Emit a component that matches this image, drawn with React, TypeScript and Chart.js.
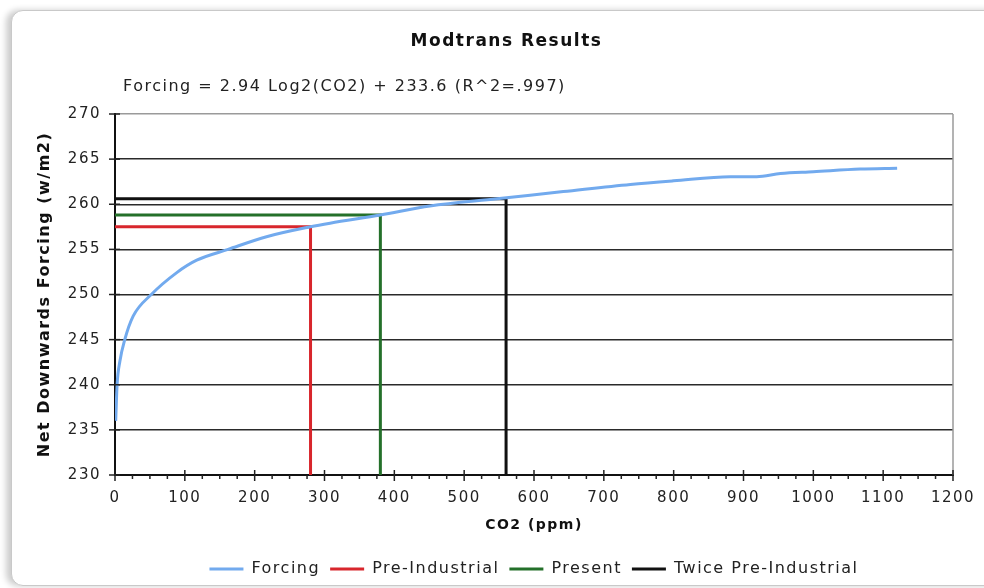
import { useEffect, useRef } from "react";
import { Chart, registerables } from "chart.js";

Chart.register(...registerables);

// ---- data ----
const co2Ppm = [1, 3, 7, 14, 26, 52, 88, 117, 162, 217, 280, 308, 380, 451, 547, 642, 738, 800, 881, 919, 953, 1000, 1067, 1120];
const forcingWm2 = [236.0, 240.0, 242.6, 245.0, 247.6, 250.0, 252.4, 253.8, 255.0, 256.4, 257.5, 257.9, 258.8, 259.8, 260.6, 261.4, 262.2, 262.6, 263.05, 263.05, 263.4, 263.6, 263.9, 264.0];

const preIndustrialX = [0, 280, 280];
const preIndustrialY = [257.5, 257.5, 230];
const presentX = [0, 380, 380];
const presentY = [258.8, 258.8, 230];
const twicePreIndustrialX = [0, 560, 560];
const twicePreIndustrialY = [260.6, 260.6, 230];

const seriesLabels = ["Forcing", "Pre-Industrial", "Present", "Twice Pre-Industrial"];
const seriesColors = ["#72aaee", "#d8262c", "#24702a", "#111111"];

const chartTitle = "Modtrans Results";
const fitLabel = "Forcing = 2.94 Log2(CO2) + 233.6 (R^2=.997)";
const xTitle = "CO2 (ppm)";
const yTitle = "Net Downwards Forcing (w/m2)";
const xMin = 0, xMax = 1200, xStep = 100, xMinorStep = 25;
const yMin = 230, yMax = 270, yStep = 5;

const FONT = '"DejaVu Sans", Verdana, sans-serif';

const toPoints = (xs: number[], ys: number[]) => xs.map((x, i) => ({ x, y: ys[i] }));

const spacingPlugin = {
  id: "letterSpacingPlugin",
  beforeLayout(chart: any) {
    chart.ctx.letterSpacing = "1.5px";
  },
  beforeDraw(chart: any) {
    chart.ctx.letterSpacing = "1.5px";
  },
};

const decorPlugin = {
  id: "decorPlugin",
  afterDraw(chart: any) {
    const { ctx, chartArea: a, scales } = chart;
    const x = scales.x;
    const y = scales.y;
    ctx.save();
    // right frame of plot area
    ctx.strokeStyle = "#9a9a9a";
    ctx.lineWidth = 1.5;
    ctx.beginPath();
    ctx.moveTo(a.right, a.top);
    ctx.lineTo(a.right, a.bottom);
    ctx.stroke();
    // x tick marks (major crossing, minor below)
    ctx.strokeStyle = "#222";
    ctx.lineWidth = 1.5;
    for (let v = xMin; v <= xMax; v += xMinorStep) {
      const px = x.getPixelForValue(v);
      const major = v % xStep === 0;
      ctx.beginPath();
      ctx.moveTo(px, major ? a.bottom - 5 : a.bottom);
      ctx.lineTo(px, a.bottom + (major ? 6 : 4));
      ctx.stroke();
    }
    // y tick marks crossing the axis
    for (let v = yMin; v <= yMax; v += yStep) {
      const py = y.getPixelForValue(v);
      ctx.beginPath();
      ctx.moveTo(a.left - 6, py);
      ctx.lineTo(a.left + 5, py);
      ctx.stroke();
    }
    // fit equation line
    ctx.letterSpacing = "1.5px";
    ctx.fillStyle = "#222";
    ctx.font = `16px ${FONT}`;
    ctx.textBaseline = "middle";
    ctx.textAlign = "left";
    ctx.fillText(fitLabel, a.left + 8, a.top - 27);
    ctx.restore();
  },
};

export default function App() {
  const canvasRef = useRef<HTMLCanvasElement | null>(null);

  useEffect(() => {
    if (!canvasRef.current) return;
    const chart = new Chart(canvasRef.current, {
      type: "line",
      data: {
        datasets: [
          {
            label: seriesLabels[0],
            data: toPoints(co2Ppm, forcingWm2),
            borderColor: seriesColors[0],
            backgroundColor: seriesColors[0],
            borderWidth: 3,
            pointRadius: 0,
            cubicInterpolationMode: "monotone",
            fill: false,
          },
          {
            label: seriesLabels[1],
            data: toPoints(preIndustrialX, preIndustrialY),
            borderColor: seriesColors[1],
            backgroundColor: seriesColors[1],
            borderWidth: 3,
            pointRadius: 0,
            tension: 0,
            fill: false,
          },
          {
            label: seriesLabels[2],
            data: toPoints(presentX, presentY),
            borderColor: seriesColors[2],
            backgroundColor: seriesColors[2],
            borderWidth: 3,
            pointRadius: 0,
            tension: 0,
            fill: false,
          },
          {
            label: seriesLabels[3],
            data: toPoints(twicePreIndustrialX, twicePreIndustrialY),
            borderColor: seriesColors[3],
            backgroundColor: seriesColors[3],
            borderWidth: 3,
            pointRadius: 0,
            tension: 0,
            fill: false,
          },
        ],
      },
      options: {
        responsive: false,
        animation: false,
        devicePixelRatio: 1,
        layout: { padding: { left: 60, right: 31, top: 0, bottom: 1 } },
        plugins: {
          tooltip: { enabled: false },
          title: {
            display: true,
            text: chartTitle,
            color: "#111",
            font: { family: FONT, size: 17, weight: "bold" },
            padding: { top: 31.8, bottom: 61.8 },
          },
          legend: {
            display: true,
            position: "bottom",
            fullSize: false,
            labels: {
              usePointStyle: true,
              pointStyle: "line",
              pointStyleWidth: 34,
              color: "#222",
              font: { family: FONT, size: 16 },
              padding: 10,
            },
          },
        },
        scales: {
          x: {
            type: "linear",
            min: xMin,
            max: xMax,
            afterFit(scale: any) {
              scale.height = 76;
              scale.paddingLeft = 0;
              scale.paddingRight = 0;
            },
            ticks: {
              stepSize: xStep,
              color: "#222",
              font: { family: FONT, size: 15 },
              padding: 14,
              maxRotation: 0,
              callback: (v: any) => String(v),
            },
            grid: { display: true, drawOnChartArea: false, drawTicks: false },
            border: { display: true, color: "#111", width: 2 },
            title: {
              display: true,
              text: xTitle,
              color: "#111",
              font: { family: FONT, size: 14, weight: "bold" },
              padding: { top: 0, bottom: 17.6 },
            },
          },
          y: {
            type: "linear",
            min: yMin,
            max: yMax,
            afterFit(scale: any) {
              scale.width = 55;
            },
            ticks: {
              stepSize: yStep,
              color: "#222",
              font: { family: FONT, size: 15 },
              padding: 14,
              callback: (v: any) => String(v),
            },
            grid: {
              display: true,
              drawTicks: false,
              lineWidth: 1.5,
              color: (c: any) => (c.tick && c.tick.value === yMax ? "#9a9a9a" : "#2a2a2a"),
            },
            border: { display: true, color: "#111", width: 2 },
            title: {
              display: true,
              text: yTitle,
              color: "#111",
              font: { family: FONT, size: 16, weight: "bold" },
              padding: { top: -24.6, bottom: 0 },
            },
          },
        },
      },
      plugins: [spacingPlugin, decorPlugin],
    } as any);
    return () => chart.destroy();
  }, []);

  return (
    <div style={{ position: "absolute", left: 0, top: 0, width: 984, height: 588, overflow: "hidden", background: "#fff" }}>
      <div
        style={{
          position: "absolute",
          left: 11,
          top: 10,
          width: 1000,
          height: 574,
          border: "1.5px solid #c9c9c9",
          borderRadius: 12,
          boxShadow: "-5px 0px 6px rgba(0,0,0,0.2)",
          background: "#fff",
        }}
      />
      <canvas ref={canvasRef} width={984} height={588} style={{ position: "absolute", left: 0, top: 0, display: "block" }} />
    </div>
  );
}
